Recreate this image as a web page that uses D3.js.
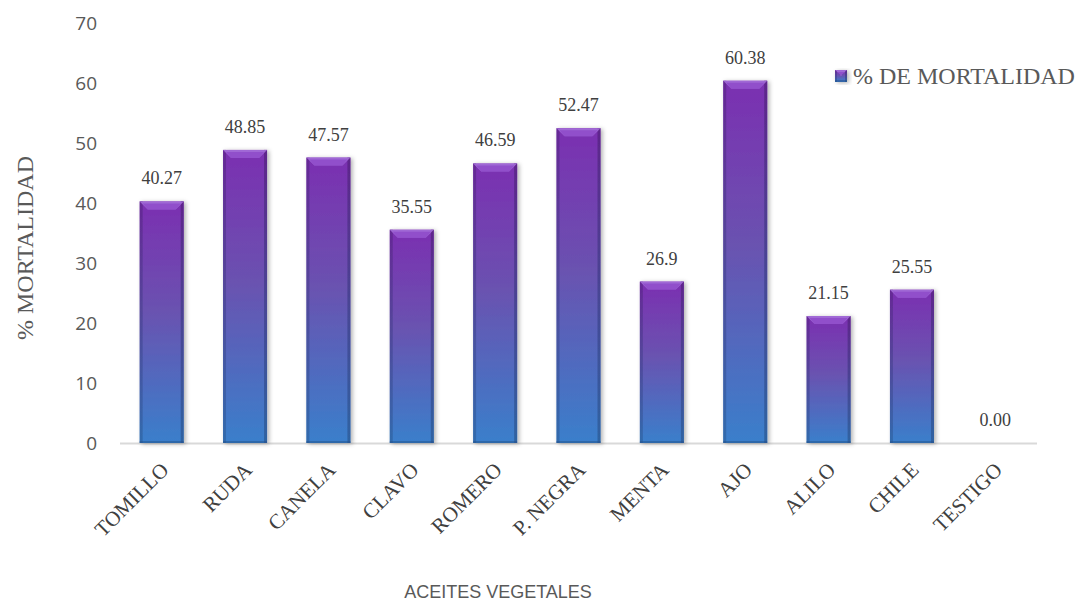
<!DOCTYPE html>
<html>
<head>
<meta charset="utf-8">
<script src="https://cdn.jsdelivr.net/npm/d3@7/dist/d3.min.js"></script>
<style>
html,body{margin:0;padding:0;background:#fff;}
svg{display:block;}
</style>
</head>
<body>
<svg id="chart" width="1079" height="602"></svg>
<script>
const categories = ["TOMILLO","RUDA","CANELA","CLAVO","ROMERO","P. NEGRA","MENTA","AJO","ALILO","CHILE","TESTIGO"];
const values = [40.27, 48.85, 47.57, 35.55, 46.59, 52.47, 26.9, 60.38, 21.15, 25.55, 0.00];
const valueLabels = ["40.27","48.85","47.57","35.55","46.59","52.47","26.9","60.38","21.15","25.55","0.00"];
const yTicks = [0,10,20,30,40,50,60,70];
const seriesName = "% DE MORTALIDAD";
const xTitle = "ACEITES VEGETALES";
const yTitle = "% MORTALIDAD";

const svg = d3.select("#chart");
const plotLeft = 120, plotRight = 1037, plotTop = 23, plotBottom = 443;
const serif = "'Liberation Serif', 'Times New Roman', serif";

const x = d3.scaleBand().domain(categories).range([plotLeft, plotRight]).paddingInner(0.472).paddingOuter(0.236);
const y = d3.scaleLinear().domain([0, 70]).range([plotBottom, plotTop]);

const defs = svg.append("defs");
const g1 = defs.append("linearGradient").attr("id","barGrad").attr("x1",0).attr("y1",0).attr("x2",0).attr("y2",1);
g1.append("stop").attr("offset","0").attr("stop-color","#7b2fb1");
g1.append("stop").attr("offset","0.45").attr("stop-color","#6a52b0");
g1.append("stop").attr("offset","1").attr("stop-color","#3a7fcb");
const g2 = defs.append("linearGradient").attr("id","edgeGrad").attr("x1",0).attr("y1",0).attr("x2",0).attr("y2",1);
g2.append("stop").attr("offset","0").attr("stop-color","#55227f");
g2.append("stop").attr("offset","1").attr("stop-color","#2a5a94");
const f = defs.append("filter").attr("id","shadow").attr("x","-30%").attr("y","-10%").attr("width","170%").attr("height","130%");
f.append("feDropShadow").attr("dx",2).attr("dy",1).attr("stdDeviation",2).attr("flood-color","#000").attr("flood-opacity",0.3);

// y tick labels
svg.append("g").selectAll("text").data(yTicks).join("text")
  .attr("x", 97).attr("y", d => y(d)).attr("dy","0.35em")
  .attr("text-anchor","end")
  .attr("font-family","'Open Sans', sans-serif").attr("font-size",19).attr("fill","#595959")
  .text(d => d);

// baseline
svg.append("line").attr("x1", plotLeft).attr("x2", plotRight).attr("y1", y(0)+0.5).attr("y2", y(0)+0.5)
  .attr("stroke","#d9d9d9").attr("stroke-width",2);

function drawBar(g, x0, y0, w, h){
  if (h <= 0) return;
  const grp = g.append("g").attr("filter","url(#shadow)");
  grp.append("rect").attr("x",x0).attr("y",y0).attr("width",w).attr("height",h).attr("fill","url(#barGrad)");
  const e = Math.min(3, w/6);
  const t = Math.min(8, h/2);
  grp.append("rect").attr("x",x0).attr("y",y0).attr("width",e).attr("height",h).attr("fill","url(#edgeGrad)").attr("opacity",0.55);
  grp.append("rect").attr("x",x0+w-e).attr("y",y0).attr("width",e).attr("height",h).attr("fill","url(#edgeGrad)").attr("opacity",0.75);
  grp.append("rect").attr("x",x0).attr("y",y0+h-2).attr("width",w).attr("height",2).attr("fill","#24508a").attr("opacity",0.5);
  grp.append("polygon")
    .attr("points", [[x0,y0],[x0+w,y0],[x0+w-e-5,y0+t],[x0+e+5,y0+t]].map(p=>p.join(",")).join(" "))
    .attr("fill","#a772dc").attr("opacity",0.85);
  grp.append("polygon")
    .attr("points", [[x0+e,y0+2],[x0+w-e,y0+2],[x0+w-e-5,y0+t],[x0+e+5,y0+t]].map(p=>p.join(",")).join(" "))
    .attr("fill","#8a45c6").attr("opacity",0.7);
}

const bars = svg.append("g");
categories.forEach((c,i) => {
  const v = values[i];
  drawBar(bars, x(c), y(v), x.bandwidth(), y(0) - y(v));
});

svg.append("g").selectAll("text").data(categories).join("text")
  .attr("x", d => x(d) + x.bandwidth()/2)
  .attr("y", (d,i) => y(values[i]) - 17)
  .attr("text-anchor","middle")
  .attr("font-family", serif).attr("font-size",18).attr("fill","#404040")
  .text((d,i) => valueLabels[i]);

svg.append("g").selectAll("text").data(categories).join("text")
  .attr("transform", d => `translate(${x(d) + x.bandwidth()/2 + 3},${466}) rotate(-45)`)
  .attr("dy","0.35em")
  .attr("text-anchor","end")
  .attr("font-family", serif).attr("font-size",21).attr("fill","#404040")
  .text(d => d);

svg.append("text").attr("x", 498).attr("y", 598).attr("text-anchor","middle")
  .attr("font-family","'Liberation Sans', Arial, sans-serif").attr("font-size",18).attr("fill","#595959")
  .text(xTitle);
svg.append("text").attr("transform","translate(33,248) rotate(-90)").attr("text-anchor","middle")
  .attr("font-family", serif).attr("font-size",24).attr("fill","#595959")
  .text(yTitle);

const lg = svg.append("g");
drawBar(lg, 835, 70, 12, 12);
lg.append("text").attr("x", 853).attr("y", 76).attr("dy","0.35em")
  .attr("font-family", serif).attr("font-size",24).attr("fill","#595959")
  .text(seriesName);
</script>
</body>
</html>
